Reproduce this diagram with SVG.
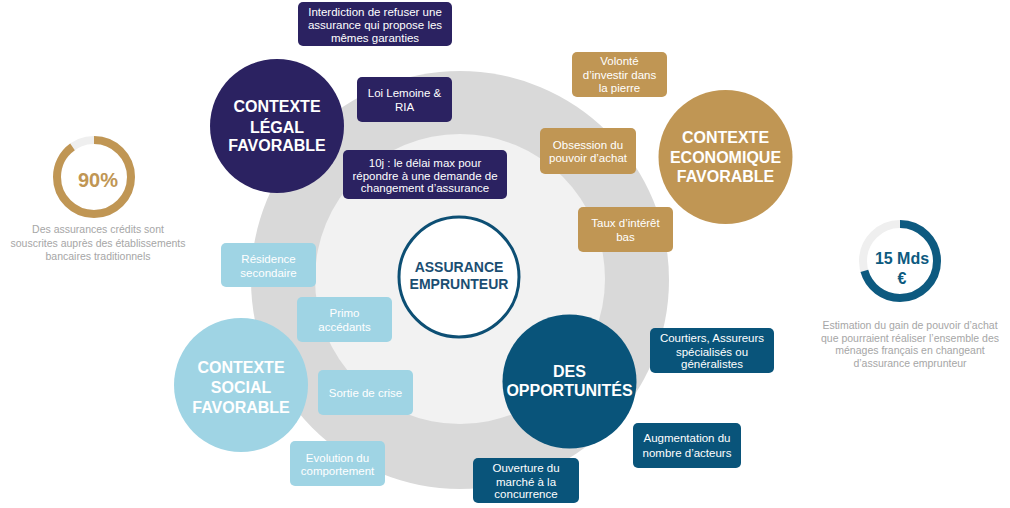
<svg xmlns="http://www.w3.org/2000/svg" width="1010" height="508" viewBox="0 0 1010 508">
<style>
text{font-family:"Liberation Sans",Arial,sans-serif;text-anchor:middle;}
.bx{font-size:11.5px;fill:#ffffff;}
.tt{font-size:16px;font-weight:bold;fill:#ffffff;}
.cap{font-size:10.5px;fill:#a6a6a6;}
.legal{fill:#2b2261;}
.gold{fill:#c09654;}
.light{fill:#9fd4e4;}
.teal{fill:#09547a;}
</style>
<rect width="1010" height="508" fill="#ffffff"/>
<g id="rings">
<circle cx="460" cy="280" r="209" fill="#d9d9d9"/>
<circle cx="460" cy="279" r="145" fill="#f2f2f2"/>
</g>
<g id="connectors"></g>
<g id="center">
<circle cx="459" cy="277" r="60" fill="#ffffff" stroke="#0d4f74" stroke-width="3"/>
<text x="459" y="272" font-size="14" font-weight="bold" fill="#1b4e72">ASSURANCE</text>
<text x="459" y="289" font-size="14" font-weight="bold" fill="#1b4e72">EMPRUNTEUR</text>
</g>
<g id="legal">
<circle class="legal" cx="277" cy="126" r="67"/>
<text class="tt" x="277" y="112">CONTEXTE</text>
<text class="tt" x="277" y="133">LÉGAL</text>
<text class="tt" x="277" y="151">FAVORABLE</text>
</g>
<g id="legal-1">
<rect class="legal" x="298" y="2" width="154" height="44" rx="5"/>
<text class="bx" x="375" y="16">Interdiction de refuser  une</text>
<text class="bx" x="375" y="29">assurance qui propose les</text>
<text class="bx" x="375" y="42">mêmes garanties</text>
</g>
<g id="legal-2">
<rect class="legal" x="357" y="77" width="95" height="45" rx="5"/>
<text class="bx" x="404.5" y="97">Loi Lemoine &amp;</text>
<text class="bx" x="404.5" y="111">RIA</text>
</g>
<g id="legal-3">
<rect class="legal" x="343" y="150" width="164" height="49" rx="5"/>
<text class="bx" x="425" y="167">10j : le délai max pour</text>
<text class="bx" x="425" y="179.5">répondre à une demande de</text>
<text class="bx" x="425" y="192">changement d’assurance</text>
</g>
<g id="eco">
<circle class="gold" cx="725.5" cy="157" r="67"/>
<text class="tt" x="725.5" y="143">CONTEXTE</text>
<text class="tt" x="725.5" y="163">ECONOMIQUE</text>
<text class="tt" x="725.5" y="182">FAVORABLE</text>
</g>
<g id="eco-1">
<rect class="gold" x="572" y="52" width="95" height="45" rx="5"/>
<text class="bx" x="619.5" y="65">Volonté</text>
<text class="bx" x="619.5" y="78.5">d’investir dans</text>
<text class="bx" x="619.5" y="92">la pierre</text>
</g>
<g id="eco-2">
<rect class="gold" x="540" y="128" width="96" height="46" rx="5"/>
<text class="bx" x="588" y="149">Obsession du</text>
<text class="bx" x="588" y="162">pouvoir d’achat</text>
</g>
<g id="eco-3">
<rect class="gold" x="578" y="207" width="95" height="45" rx="5"/>
<text class="bx" x="625.5" y="227">Taux d’intérêt</text>
<text class="bx" x="625.5" y="241">bas</text>
</g>
<g id="social">
<circle class="light" cx="241" cy="385" r="67"/>
<text class="tt" x="241" y="373">CONTEXTE</text>
<text class="tt" x="241" y="393">SOCIAL</text>
<text class="tt" x="241" y="413">FAVORABLE</text>
</g>
<g id="social-1">
<rect class="light" x="221" y="243" width="95" height="44" rx="5"/>
<text class="bx" x="268.5" y="263">Résidence</text>
<text class="bx" x="268.5" y="277">secondaire</text>
</g>
<g id="social-2">
<rect class="light" x="297" y="297" width="95" height="45" rx="5"/>
<text class="bx" x="344.5" y="317">Primo</text>
<text class="bx" x="344.5" y="331">accédants</text>
</g>
<g id="social-3">
<rect class="light" x="318" y="370" width="95" height="45" rx="5"/>
<text class="bx" x="365.5" y="397">Sortie de crise</text>
</g>
<g id="social-4">
<rect class="light" x="290" y="441" width="95" height="45" rx="5"/>
<text class="bx" x="337.5" y="462">Evolution  du</text>
<text class="bx" x="337.5" y="475">comportement</text>
</g>
<g id="opp">
<circle class="teal" cx="569.5" cy="381.5" r="67"/>
<text class="tt" x="569.5" y="377">DES</text>
<text class="tt" x="569.5" y="396">OPPORTUNITÉS</text>
</g>
<g id="opp-1">
<rect class="teal" x="650" y="328" width="124" height="45" rx="5"/>
<text class="bx" x="712" y="342">Courtiers, Assureurs</text>
<text class="bx" x="712" y="356">spécialisés ou</text>
<text class="bx" x="712" y="368">généralistes</text>
</g>
<g id="opp-2">
<rect class="teal" x="633" y="423" width="108" height="45" rx="5"/>
<text class="bx" x="687" y="442">Augmentation  du</text>
<text class="bx" x="687" y="457">nombre d’acteurs</text>
</g>
<g id="opp-3">
<rect class="teal" x="473" y="458" width="106" height="45" rx="5"/>
<text class="bx" x="526" y="472">Ouverture du</text>
<text class="bx" x="526" y="486">marché à la</text>
<text class="bx" x="526" y="498">concurrence</text>
</g>
<g id="stat-left">
<circle cx="94" cy="177" r="37" fill="none" stroke="#efefef" stroke-width="8"/>
<circle cx="94" cy="177" r="37" fill="none" stroke="#c09654" stroke-width="8" stroke-dasharray="209.2 300" transform="rotate(-90 94 177)"/>
<text x="98" y="187" font-size="20" font-weight="bold" fill="#c09654">90%</text>
<text class="cap" x="98" y="233">Des assurances  crédits  sont</text>
<text class="cap" x="98" y="247">souscrites auprès des établissements</text>
<text class="cap" x="98" y="260">bancaires traditionnels</text>
</g>
<g id="stat-right">
<circle cx="900" cy="261" r="37" fill="none" stroke="#efefef" stroke-width="8"/>
<circle cx="900" cy="261" r="37" fill="none" stroke="#0d5a80" stroke-width="8" stroke-dasharray="164 300" transform="rotate(-90 900 261)"/>
<text x="902" y="264" font-size="16" font-weight="bold" fill="#0d5a80">15 Mds</text>
<text x="902" y="284" font-size="16" font-weight="bold" fill="#0d5a80">€</text>
<text class="cap" x="910" y="329">Estimation du gain de pouvoir d’achat</text>
<text class="cap" x="910" y="342">que pourraient réaliser l’ensemble des</text>
<text class="cap" x="910" y="354">ménages français en changeant</text>
<text class="cap" x="910" y="367">d’assurance emprunteur</text>
</g>
</svg>
